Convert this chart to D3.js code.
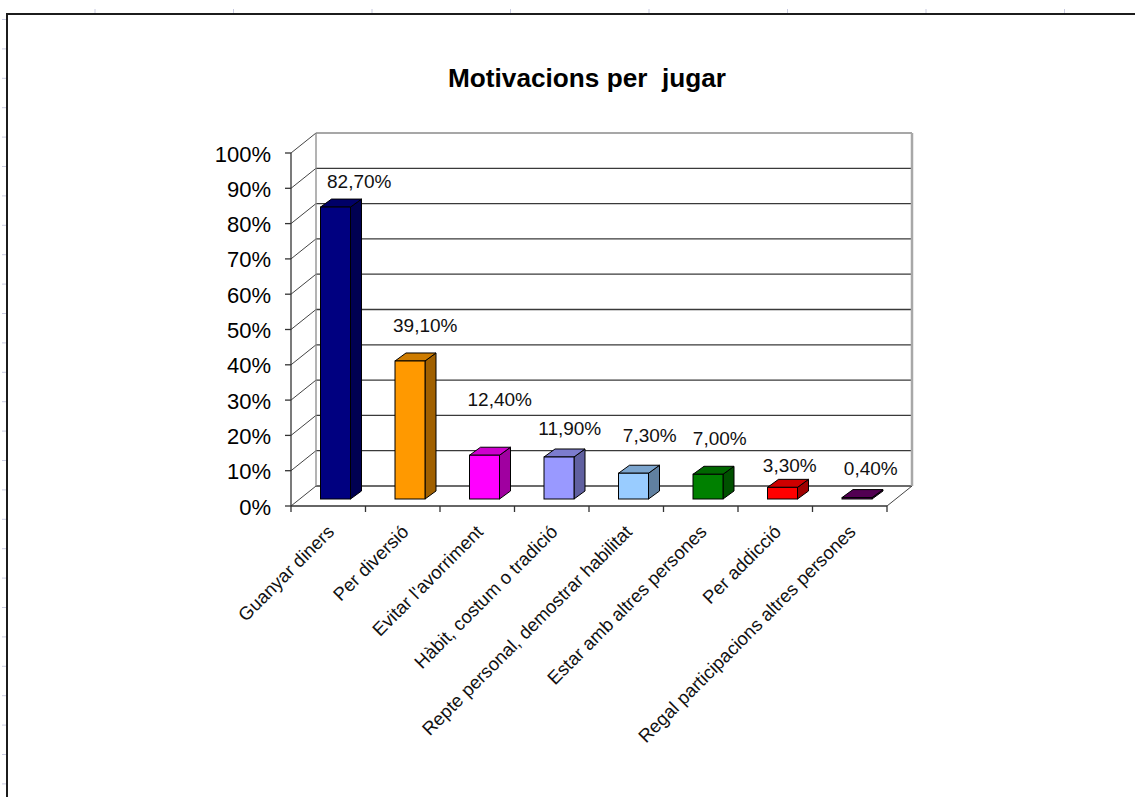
<!DOCTYPE html>
<html>
<head>
<meta charset="utf-8">
<script src="https://cdn.jsdelivr.net/npm/d3@7"></script>
<style>
  html, body { margin: 0; padding: 0; background: #fff; }
  svg { display: block; font-family: "Liberation Sans", Arial, sans-serif; }
</style>
</head>
<body>
<svg id="chart" width="1135" height="797"></svg>
<script>
// ---- data ----
const title = "Motivacions per  jugar";
const categories = [
  "Guanyar diners",
  "Per diversió",
  "Evitar l'avorriment",
  "Hàbit, costum o tradició",
  "Repte personal, demostrar habilitat",
  "Estar amb altres persones",
  "Per addicció",
  "Regal participacions altres persones"
];
const values = [82.7, 39.1, 12.4, 11.9, 7.3, 7.0, 3.3, 0.4];
const barColors = ["#000080", "#FF9900", "#FF00FF", "#9999FF", "#99CCFF", "#008000", "#FF0000", "#660066"];
const yTicks = [0, 10, 20, 30, 40, 50, 60, 70, 80, 90, 100];

// ---- layout ----
const svg = d3.select("#chart");
const plot = { left: 291, right: 887, top: 153, bottom: 506 };
const depth = { dx: 25, dy: -20 };          // wall depth of the 3D box
const barPlane = { dx: 8.5, dy: -7 };       // where bar front faces sit inside the box
const barDepth = { dx: 11, dy: -8 };        // thickness of each bar
const barOffset = 29.5, barWidth = 30;
// label placement tweaks (px) per bar: [dx, lift above bar top]
const labelNudge = [[10, 11], [1.5, 21], [1.5, 41], [-3, 14], [2.5, 23], [-2, 21], [-6.5, 7], [0, 15]];

const x = d3.scaleBand().domain(categories).range([plot.left, plot.right]).padding(0);
const y = d3.scaleLinear().domain([0, 100]).range([plot.bottom, plot.top]);

const fmt = v => d3.format(".2f")(v).replace(".", ",") + "%";

// sheet frame and faint cell marks
const marks = svg.append("g").attr("stroke", "#c9cbe0").attr("stroke-width", 1);
d3.range(95, 1135, 138.5).forEach(px => {
  marks.append("line").attr("x1", px).attr("x2", px).attr("y1", 9).attr("y2", 14);
});
d3.range(19.5, 797, 29.4).forEach(py => {
  marks.append("line").attr("x1", 2).attr("x2", 7).attr("y1", py).attr("y2", py);
});
svg.append("path")
  .attr("d", "M7,797 L7,14 L1135,14")
  .attr("fill", "none").attr("stroke", "#1c1c1c").attr("stroke-width", 2);

// title
svg.append("text")
  .attr("x", 587).attr("y", 87)
  .attr("text-anchor", "middle")
  .attr("font-size", 26.2).attr("font-weight", "bold")
  .style("white-space", "pre")
  .text(title);

// back wall gridlines
const backX0 = plot.left + depth.dx, backX1 = plot.right + depth.dx;
const grid = svg.append("g");
yTicks.forEach(t => {
  grid.append("line")
    .attr("x1", backX0).attr("x2", backX1)
    .attr("y1", y(t) + depth.dy).attr("y2", y(t) + depth.dy)
    .attr("stroke", t === 100 ? "#8a8a8a" : "#3a3a3a")
    .attr("stroke-width", t === 100 ? 1.5 : 1.3);
  // side wall diagonals
  grid.append("line")
    .attr("x1", plot.left).attr("y1", y(t))
    .attr("x2", backX0).attr("y2", y(t) + depth.dy)
    .attr("stroke", "#444").attr("stroke-width", 1);
});
// wall edges
grid.append("line")
  .attr("x1", backX0).attr("x2", backX0)
  .attr("y1", y(100) + depth.dy).attr("y2", y(0) + depth.dy)
  .attr("stroke", "#8a8a8a").attr("stroke-width", 1.3);
grid.append("line")
  .attr("x1", backX1).attr("x2", backX1)
  .attr("y1", y(100) + depth.dy).attr("y2", y(0) + depth.dy)
  .attr("stroke", "#a8a8a8").attr("stroke-width", 2.5);
// floor right edge
grid.append("line")
  .attr("x1", plot.right).attr("y1", y(0))
  .attr("x2", backX1).attr("y2", y(0) + depth.dy)
  .attr("stroke", "#444").attr("stroke-width", 1);

// bars
const bars = svg.append("g");
categories.forEach((c, i) => {
  const v = values[i];
  const col = d3.color(barColors[i]);
  const x0 = x(c) + barOffset, x1 = x0 + barWidth;
  const yb = y(0) + barPlane.dy, yt = y(v) + barPlane.dy;
  const dx = barDepth.dx, dy = barDepth.dy;
  // side face
  bars.append("path")
    .attr("d", `M${x1},${yb} L${x1 + dx},${yb + dy} L${x1 + dx},${yt + dy} L${x1},${yt} Z`)
    .attr("fill", col.darker(1.3)).attr("stroke", "#000").attr("stroke-width", 1)
    .attr("stroke-linejoin", "round");
  // top face
  bars.append("path")
    .attr("d", `M${x0},${yt} L${x0 + dx},${yt + dy} L${x1 + dx},${yt + dy} L${x1},${yt} Z`)
    .attr("fill", col.darker(0.6)).attr("stroke", "#000").attr("stroke-width", 1)
    .attr("stroke-linejoin", "round");
  // front face
  bars.append("rect")
    .attr("x", x0).attr("y", yt)
    .attr("width", barWidth).attr("height", yb - yt)
    .attr("fill", col.toString()).attr("stroke", "#000").attr("stroke-width", 1);
  // value label
  svg.append("text")
    .attr("x", x(c) + x.bandwidth() / 2 + 21 + labelNudge[i][0])
    .attr("y", yt + dy - labelNudge[i][1])
    .attr("text-anchor", "middle")
    .attr("font-size", 19).attr("fill", "#111")
    .text(fmt(v));
});

// front axes
const axes = svg.append("g").attr("stroke", "#333").attr("stroke-width", 1.3);
axes.append("line").attr("x1", plot.left).attr("x2", plot.left).attr("y1", y(100)).attr("y2", y(0));
axes.append("line").attr("x1", plot.left).attr("x2", plot.right).attr("y1", y(0)).attr("y2", y(0));
yTicks.forEach(t => {
  axes.append("line").attr("x1", plot.left - 6).attr("x2", plot.left).attr("y1", y(t)).attr("y2", y(t));
});
categories.concat([null]).forEach((c, i) => {
  const px = c === null ? plot.right : x(c);
  axes.append("line").attr("x1", px).attr("x2", px).attr("y1", y(0)).attr("y2", y(0) + 6);
});

// y tick labels
svg.append("g").selectAll("text").data(yTicks).join("text")
  .attr("x", 271).attr("y", d => y(d) + 1)
  .attr("text-anchor", "end").attr("dominant-baseline", "central")
  .attr("font-size", 22).attr("fill", "#000")
  .text(d => d + "%");

// category labels, rotated
svg.append("g").selectAll("text").data(categories).join("text")
  .attr("transform", d => `translate(${x(d) + x.bandwidth() / 2 + 7},533) rotate(-45)`)
  .attr("text-anchor", "end")
  .attr("font-size", 18.5).attr("fill", "#111")
  .text(d => d);
</script>
</body>
</html>
